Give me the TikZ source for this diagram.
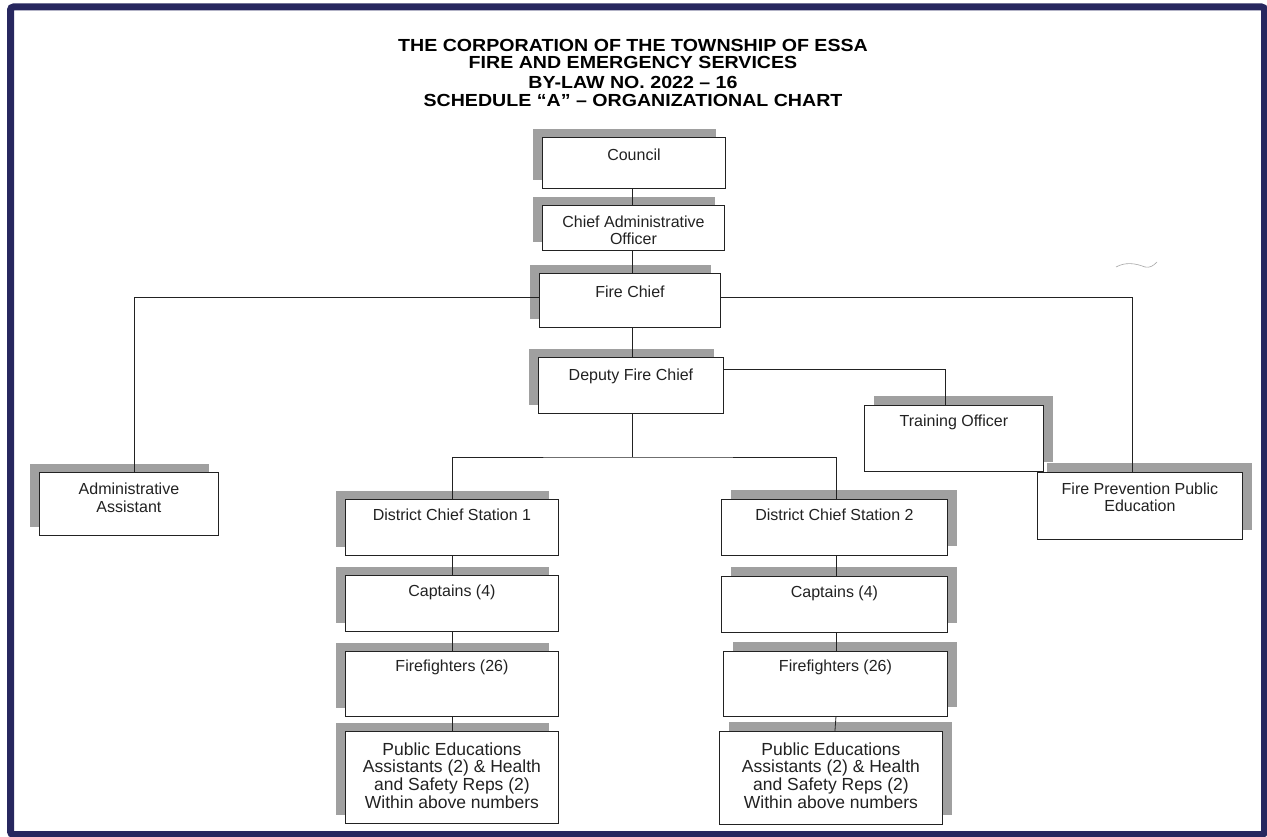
\documentclass[tikz,border=0pt]{standalone}
\usepackage{fontspec}
\setmainfont{Liberation Sans}
\usetikzlibrary{shadows,calc}
\definecolor{frame}{HTML}{27275F}
\definecolor{shgray}{HTML}{A0A0A0}
\definecolor{ink}{HTML}{222222}
\begin{document}
\begin{tikzpicture}[x=1pt,y=-1pt,
  box/.style={draw=ink, line width=0.9pt, fill=white, anchor=north west, inner sep=0pt},
  lsh/.style={drop shadow={shadow xshift=-9.5pt, shadow yshift=8.5pt, fill=shgray, opacity=1}},
  rsh/.style={drop shadow={shadow xshift=9.5pt, shadow yshift=9.5pt, fill=shgray, opacity=1}},
  lbl/.style={text=ink, font=\fontsize{16}{17.5}\selectfont, align=center, inner sep=0pt},
  biglbl/.style={lbl, font=\fontsize{17.5}{17.7}\selectfont},
  ttl/.style={text=black, font=\fontsize{17.5}{19}\selectfont\bfseries, inner sep=0pt, xscale=1.12, transform shape},
  conn/.style={draw=ink, line width=0.8pt}
]
\useasboundingbox (0,0) rectangle (1267,837);
\fill[white] (0,0) rectangle (1267,837);
\draw[frame, line width=7pt, rounded corners=3pt] (10.5,7) rectangle (1264.5,834.5);

% title
\node[ttl] (t1) at (633,45) {THE CORPORATION OF THE TOWNSHIP OF ESSA};
\node[ttl] (t2) at (633,62.5) {FIRE AND EMERGENCY SERVICES};
\node[ttl] (t3) at (633,82) {BY-LAW NO. 2022 -- 16};
\node[ttl] (t4) at (633,100) {SCHEDULE “A” -- ORGANIZATIONAL CHART};

% boxes
\node[box, lsh, minimum width=183pt, minimum height=51pt] (council) at (542,137) {};
\node[box, lsh, minimum width=182pt, minimum height=45pt] (cao) at (542,205) {};
\node[box, lsh, minimum width=181pt, minimum height=54pt] (chief) at (539,273) {};
\node[box, lsh, minimum width=185pt, minimum height=56pt] (deputy) at (538,357) {};
\node[box, rsh, minimum width=179pt, minimum height=66pt] (training) at (864,405) {};
\node[box, rsh, minimum width=205pt, minimum height=67pt] (prev) at (1037,472) {};
\node[box, lsh, minimum width=179pt, minimum height=63pt] (admin) at (39,472) {};
\node[box, lsh, minimum width=213pt, minimum height=56pt] (dc1) at (345,499) {};
\node[box, lsh, minimum width=213pt, minimum height=56pt] (cap1) at (345,575) {};
\node[box, lsh, minimum width=213pt, minimum height=65pt] (ff1) at (345,651) {};
\node[box, lsh, minimum width=213pt, minimum height=92pt] (pe1) at (345,731) {};
\node[box, rsh, minimum width=226pt, minimum height=56pt] (dc2) at (721,499) {};
\node[box, rsh, minimum width=226pt, minimum height=56pt] (cap2) at (721,576) {};
\node[box, rsh, minimum width=224pt, minimum height=65pt] (ff2) at (723,651) {};
\node[box, rsh, minimum width=223pt, minimum height=93pt] (pe2) at (719,731) {};

% labels
\node[lbl] (councilL) at ($(council.north)+(0,18)$) {Council};
\node[lbl] (caoL) at ($(cao.north)+(0,25.5)$) {Chief Administrative\\Officer};
\node[lbl] (chiefL) at ($(chief.north)+(0,19)$) {Fire Chief};
\node[lbl] (deputyL) at ($(deputy.north)+(0,19)$) {Deputy Fire Chief};
\node[lbl] (trainingL) at ($(training.north)+(0,17)$) {Training Officer};
\node[lbl] (prevL) at ($(prev.north)+(0,25.5)$) {Fire Prevention Public\\Education};
\node[lbl] (adminL) at ($(admin.north)+(0,26)$) {Administrative\\Assistant};
\node[lbl] (dc1L) at ($(dc1.north)+(0,16)$) {District Chief Station 1};
\node[lbl] (cap1L) at ($(cap1.north)+(0,17)$) {Captains (4)};
\node[lbl] (ff1L) at ($(ff1.north)+(0,16.5)$) {Firefighters (26)};
\node[biglbl] (pe1L) at ($(pe1.north)+(0,44.5)$) {Public Educations\\Assistants (2) \& Health\\and Safety Reps (2)\\Within above numbers};
\node[lbl] (dc2L) at ($(dc2.north)+(0,16)$) {District Chief Station 2};
\node[lbl] (cap2L) at ($(cap2.north)+(0,17)$) {Captains (4)};
\node[lbl] (ff2L) at ($(ff2.north)+(0,16.5)$) {Firefighters (26)};
\node[biglbl] (pe2L) at ($(pe2.north)+(0,44.5)$) {Public Educations\\Assistants (2) \& Health\\and Safety Reps (2)\\Within above numbers};

% connectors
\coordinate (bus) at (632,457);
\draw[conn] ([xshift=-1.5pt]council.south) -- ([xshift=-1pt]cao.north);
\draw[conn] ([xshift=-1pt]cao.south) -- ([xshift=2.5pt]chief.north);
\draw[conn] ([xshift=2.5pt]chief.south) -- ([xshift=1.5pt]deputy.north);
\draw[conn] ([yshift=3pt]chief.west) -| ([xshift=5.5pt]admin.north);
\draw[conn] ([yshift=3pt]chief.east) -| ([xshift=-7.5pt]prev.north);
\draw[conn] ([yshift=16pt]deputy.east) -| ([xshift=-8.5pt]training.north);
\draw[conn] ([xshift=1.5pt]deputy.south) -- (deputy.south -| bus) -- (bus);
\draw[conn] (dc1.north) |- (bus) -| ([xshift=1.5pt]dc2.north);
\draw[conn] (dc1.south) -- (cap1.north);
\draw[conn] (cap1.south) -- (ff1.north);
\draw[conn] (ff1.south) -- (pe1.north);
\draw[conn] ([xshift=1.5pt]dc2.south) -- ([xshift=1.5pt]cap2.north);
\draw[conn] ([xshift=1.5pt]cap2.south) -- ([xshift=0.5pt]ff2.north);
\draw[conn] ([xshift=0.5pt]ff2.south) -- ([xshift=4pt]pe2.north);

% stray pen mark
\draw[gray!70, line width=0.6pt] (1116,267) .. controls (1125,262) and (1135,263) .. (1145,267) .. controls (1150,268) and (1153,266) .. (1157,262);
\end{tikzpicture}
\end{document}
